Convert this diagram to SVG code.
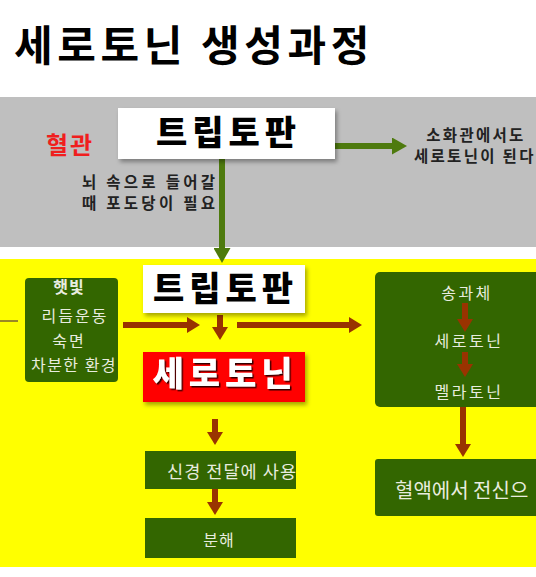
<svg xmlns="http://www.w3.org/2000/svg" width="536" height="577" viewBox="0 0 536 577">
<style>
text{font-family:"Noto Sans CJK KR","Noto Sans",sans-serif}
.title{font-size:42px;font-weight:bold;fill:#000;letter-spacing:4.6px}
.big{font-size:34px;font-weight:900;text-anchor:middle;letter-spacing:5px}
.note{font-size:15.5px;font-weight:bold;fill:#222}
.gt{font-size:16px;fill:#e8ecdf;text-anchor:middle}
.gbox{fill:#336600}
.ga{stroke:#4e7a0e;stroke-width:6;fill:none}
.ba{stroke:#993300;stroke-width:6;fill:none}
</style>
<defs>
<filter id="sh" x="-10%" y="-10%" width="130%" height="150%"><feDropShadow dx="2" dy="3" stdDeviation="2" flood-color="#000" flood-opacity="0.35"/></filter>
<filter id="ts" x="-10%" y="-10%" width="130%" height="150%"><feDropShadow dx="1.5" dy="1.5" stdDeviation="0.6" flood-color="#000" flood-opacity="0.8"/></filter>
<marker id="hg" markerUnits="userSpaceOnUse" viewBox="0 0 15 17" markerWidth="15" markerHeight="17" refX="1" refY="8.5" orient="auto"><path d="M0,0 L15,8.5 L0,17 Z" fill="#4e7a0e"/></marker>
<marker id="hb" markerUnits="userSpaceOnUse" viewBox="0 0 13 16" markerWidth="13" markerHeight="16" refX="1" refY="8" orient="auto"><path d="M0,0 L13,8 L0,16 Z" fill="#993300"/></marker>
</defs>
<rect width="536" height="577" fill="#fff"/>
<text class="title" x="14" y="61">세로토닌 생성과정</text>
<rect id="band-gray" x="0" y="97" width="536" height="150" fill="#bfbfbf"/>
<rect id="band-yellow" x="0" y="259" width="536" height="308" fill="#ffff00"/>

<g id="connectors">
<line class="ga" x1="335" y1="146" x2="393" y2="146" marker-end="url(#hg)"/>
<line class="ga" x1="222" y1="159" x2="222" y2="249" marker-end="url(#hg)"/>
<line x1="0" y1="321" x2="18" y2="321" stroke="#7a6030" stroke-width="1.5"/>
<line class="ba" x1="123" y1="325" x2="188" y2="325" marker-end="url(#hb)"/>
<line class="ba" x1="220" y1="315" x2="220" y2="328" marker-end="url(#hb)"/>
<line class="ba" x1="237" y1="325" x2="350" y2="325" marker-end="url(#hb)"/>
<line class="ba" x1="215" y1="419" x2="215" y2="433" marker-end="url(#hb)"/>
<line class="ba" x1="215" y1="489" x2="215" y2="503" marker-end="url(#hb)"/>
<line class="ba" x1="463" y1="407" x2="463" y2="445" marker-end="url(#hb)"/>
</g>

<g id="label-hyeolgwan"><text x="70" y="154" font-size="24" font-weight="bold" fill="#f01e1e" text-anchor="middle" letter-spacing="2">혈관</text></g>
<g id="node-trp-top">
<rect x="118" y="108" width="217" height="51" fill="#fff" filter="url(#sh)"/>
<text class="big" x="228.5" y="145" fill="#000">트립토판</text>
</g>
<g id="label-gut">
<text class="note" x="476" y="141" text-anchor="middle" letter-spacing="2.3">소화관에서도</text>
<text class="note" x="414" y="162" letter-spacing="2.3">세로토닌이 된다</text>
</g>
<g id="label-brain">
<text class="note" x="215" y="188" text-anchor="end" textLength="133" lengthAdjust="spacing">뇌 속으로 들어갈</text>
<text class="note" x="215" y="209" text-anchor="end" textLength="133" lengthAdjust="spacing">때 포도당이 필요</text>
</g>

<g id="node-factors">
<rect class="gbox" x="25" y="278" width="93" height="104" rx="4"/>
<text class="gt" x="69" y="293" font-weight="bold" letter-spacing="1">햇빛</text>
<text class="gt" x="75" y="322" letter-spacing="2">리듬운동</text>
<text class="gt" x="69" y="347" letter-spacing="2">숙면</text>
<text class="gt" x="74" y="371" letter-spacing="1.5">차분한 환경</text>
</g>
<g id="node-trp">
<rect x="143" y="265" width="162" height="48" fill="#fff" filter="url(#sh)"/>
<text class="big" x="225.5" y="301" fill="#000">트립토판</text>
</g>
<g id="node-serotonin">
<rect x="143" y="352" width="162" height="50" fill="#ff0000" filter="url(#sh)"/>
<text class="big" x="225" y="386" fill="#fff" filter="url(#ts)" letter-spacing="6">세로토닌</text>
</g>
<g id="node-pineal">
<rect class="gbox" x="375" y="272" width="170" height="135" rx="5"/>
<text class="gt" x="467" y="299" letter-spacing="2.5">송과체</text>
<text class="gt" x="469" y="347" letter-spacing="2.5">세로토닌</text>
<text class="gt" x="469" y="398" letter-spacing="2.5">멜라토닌</text>
<line class="ba" x1="465" y1="303" x2="465" y2="320" marker-end="url(#hb)"/>
<line class="ba" x1="465" y1="352" x2="465" y2="365" marker-end="url(#hb)"/>
</g>
<g id="node-blood">
<rect class="gbox" x="375" y="459" width="170" height="57" rx="3"/>
<text x="395" y="498" font-size="20" fill="#e8ecdf">혈액에서 전신으</text>
</g>
<g id="node-neuro">
<rect class="gbox" x="145" y="451" width="151" height="38"/>
<text x="167" y="478" font-size="17.5" fill="#e8ecdf" textLength="129" lengthAdjust="spacing">신경 전달에 사용</text>
</g>
<g id="node-decomp">
<rect class="gbox" x="145" y="518" width="151" height="40"/>
<text class="gt" x="219" y="546" font-size="17" letter-spacing="1">분해</text>
</g>
</svg>
